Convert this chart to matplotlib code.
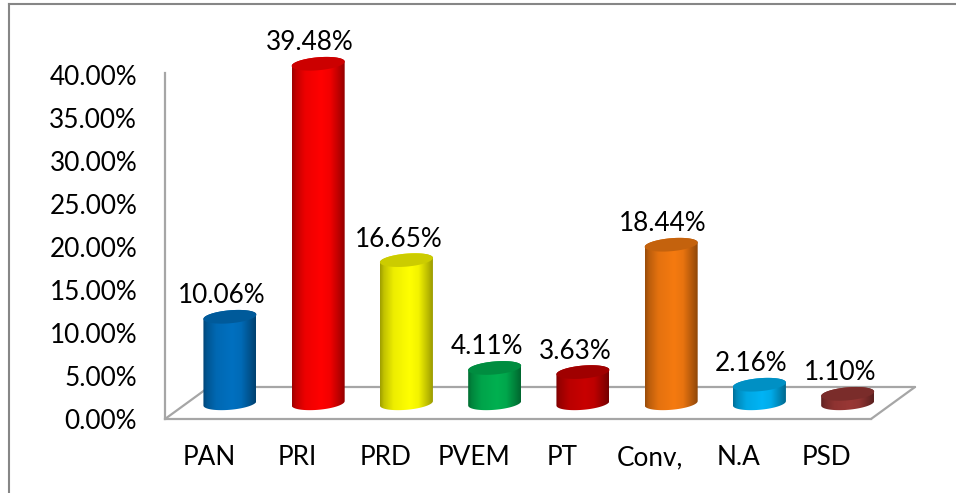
import numpy as np
import matplotlib
matplotlib.use("Agg")
import matplotlib.pyplot as plt
from matplotlib.colors import to_rgb
from matplotlib.lines import Line2D
from matplotlib.patches import PathPatch, Polygon
from matplotlib.path import Path
from matplotlib.transforms import offset_copy

parties = ["PAN", "PRI", "PRD", "PVEM", "PT", "Conv,", "N.A", "PSD"]
shares = [10.06, 39.48, 16.65, 4.11, 3.63, 18.44, 2.16, 1.10]
colors = ["#0070C0", "#FF0000", "#FFFF00", "#00B050", "#C80000", "#F57A10", "#00B4F5", "#993735"]
y_ticks = [0, 5, 10, 15, 20, 25, 30, 35, 40]

W, H = 956, 493
plt.rcParams["font.family"] = ["Lato", "DejaVu Sans"]
FS = 18.8
GRAY = "#A6A6A6"

fig = plt.figure(figsize=(W / 100, H / 100), dpi=100, facecolor="white")
L, R, B, T = 165, 871, 419, 75
ax = fig.add_axes([L / W, 1 - B / H, (R - L) / W, (B - T) / H], facecolor="none")
ax.set_xlim(-0.5, 7.5)
ax.set_ylim(0, 40)
px_x = (R - L) / 8
px_y = (B - T) / 40

for s in ["top", "right"]:
    ax.spines[s].set_visible(False)
for s in ["left", "bottom"]:
    ax.spines[s].set_color(GRAY)
    ax.spines[s].set_linewidth(1.6)
ax.spines["left"].set_bounds(0, 40.2)
ax.set_xticks(range(8), parties, fontsize=FS, color="black")
ax.set_yticks(y_ticks, [f"{v:.2f}%" for v in y_ticks], fontsize=FS, color="black")
ax.tick_params(axis="x", length=0, pad=33)
ax.tick_params(axis="y", length=0, pad=20)
for lab in ax.get_xticklabels():
    lab.set_va("baseline")

# floor in depth
back = offset_copy(ax.transData, fig=fig, x=44 * 0.72, y=32 * 0.72, units="points")
mid = offset_copy(ax.transData, fig=fig, x=20.8 * 0.72, y=15.7 * 0.72, units="points")
floor_kw = dict(color=GRAY, lw=1.6, solid_capstyle="round", zorder=1)
ax.plot([-0.5, 7.5], [0, 0], transform=back, clip_on=False, **floor_kw)
for xe in (-0.5, 7.5):
    ax.add_line(Line2D([xe, xe + 44 / px_x], [0, 32 / px_y], clip_on=False, **floor_kw))

# cylinders
a = 26.5 / px_x
b = 6.5 / px_y
k = 2.2 / px_y


def rim(cx, cy, t):
    return np.column_stack([cx + a * np.cos(t), cy + b * np.sin(t) + k * np.cos(t)])


pos = [0.0, 0.07, 0.25, 0.55, 0.72, 0.9, 1.0]
fac = [0.62, 0.76, 0.93, 1.0, 0.95, 0.72, 0.58]
u = np.linspace(0, 1, 128)
shade = np.interp(u, pos, fac)

for i, (v, c) in enumerate(zip(shares, colors)):
    rgb = np.array(to_rgb(c))
    ax.bar(i, v, width=2 * a, color="none", transform=mid, zorder=2)
    tb = np.linspace(np.pi, 2 * np.pi, 40)
    tt = np.linspace(0, np.pi, 40)
    verts = np.vstack([rim(i, 0, tb), rim(i, v, tt)])
    body = PathPatch(Path(np.vstack([verts, verts[0]]), closed=True), transform=mid, fc="none", ec="none", clip_on=False)
    ax.add_patch(body)
    img = np.clip(shade[None, :, None] * rgb[None, None, :], 0, 1)
    im = ax.imshow(img, extent=[i - a, i + a, -b - k, v + b + k], transform=mid, aspect="auto",
                   interpolation="bilinear", origin="lower", zorder=3)
    im.set_clip_path(body)
    im.set_clip_box(fig.bbox)
    t = np.linspace(0, 2 * np.pi, 80)
    ax.add_patch(Polygon(rim(i, v, t), closed=True, transform=mid, fc=rgb * 0.8, ec="none", zorder=4, clip_on=False))
    ax.annotate(f"{v:.2f}%", (i, v), xycoords=mid, xytext=(-8 * 0.72, 21 * 0.72), textcoords="offset points",
                ha="center", va="center", fontsize=FS, color="black", zorder=5, annotation_clip=False)

ax.set_xlim(-0.5, 7.5)
ax.set_ylim(0, 40)

# chart frame
frame = dict(color="#868686", lw=1.5, transform=fig.transFigure)
fig.add_artist(Line2D([9 / W, 9 / W], [0, 1 - 4 / H], **frame))
fig.add_artist(Line2D([9 / W, 1], [1 - 4 / H, 1 - 4 / H], **frame))

fig.savefig("out.png", dpi=100)
